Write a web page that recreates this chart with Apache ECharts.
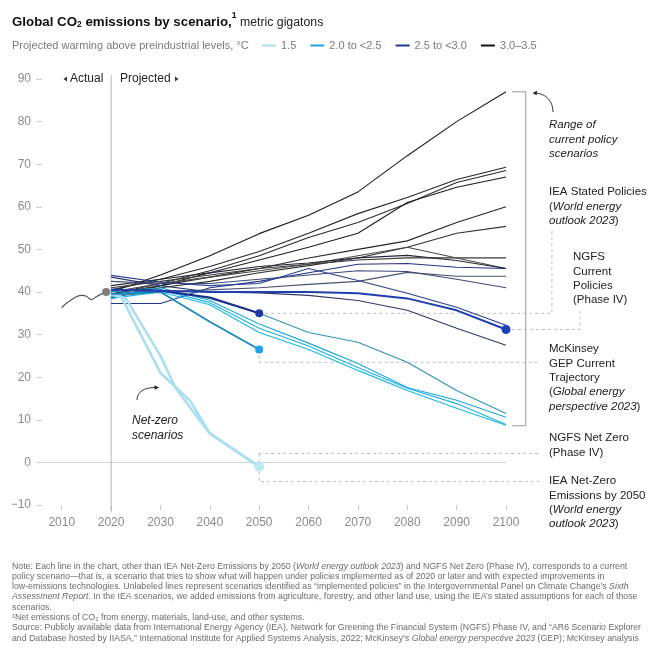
<!DOCTYPE html>
<html><head><meta charset="utf-8">
<script src="https://cdn.jsdelivr.net/npm/echarts@6/dist/echarts.min.js"></script>
<style>html,body{margin:0;padding:0;background:#fff}#c{width:658px;height:651px}</style>
</head><body><div id="c"></div>
<script>
// ---------- DATA ----------
const YEARS = [2020, 2030, 2040, 2050, 2060, 2070, 2080, 2090, 2100];
const YEARS_TO_2050 = [2020, 2030, 2040, 2050];
const X_TICKS = [2010, 2020, 2030, 2040, 2050, 2060, 2070, 2080, 2090, 2100];
const CATEGORIES = ['1.5', '2.0 to <2.5', '2.5 to <3.0', '3.0–3.5'];

const histYears  = [2010, 2011, 2012, 2013, 2014, 2015, 2016, 2017, 2018, 2019];
const histValues = [36.3, 37.4, 38.2, 38.9, 39.2, 39.0, 38.2, 38.9, 39.5, 40.0];

// 3.0–3.5 °C scenarios
const s01 = [40, 44, 48.5, 53.7, 58, 63.5, 72, 80, 87];
const s02 = [40.5, 43, 46, 49.5, 53.8, 58.4, 62.2, 66.4, 69.3];
const s03 = [39.5, 42, 45, 48.5, 52.8, 56.3, 60.8, 65.7, 68.5];
const s04 = [38.5, 41.5, 44.5, 47.5, 50.5, 53.8, 61, 64.6, 67];
const s05 = [39.5, 41.5, 43.5, 45.5, 48, 50, 52, 56.3, 60];
const s06 = [39, 41, 42.5, 44.5, 46.2, 48, 50.5, 53.8, 55.4];
const s07 = [41, 42.5, 44, 45.5, 46.5, 47.5, 48, 48, 48];
const s08 = [40, 42, 43.5, 45, 46.5, 48.5, 50.5, 48, 45.5];
const s09 = [41.5, 43, 44.5, 46, 46.8, 48, 48.6, 47.4, 45.5];

// 2.5 to <3.0 °C scenarios
const s10 = [37.3, 37.3, 41, 42.5, 44.5, 46.5, 46.7, 45.8, 45.5];
const s11 = [39, 40, 40.5, 41, 41.8, 42.5, 44.6, 43.7, 43.7];
const s12 = [42.5, 42, 42, 43, 44, 45, 44.8, 43, 41];
const s13 = [43.9, 42.3, 41.5, 42, 45.5, 42.7, 39.7, 36.4, 32.2];
const s14 = [43.5, 41.5, 40, 39.8, 39.2, 38, 35.7, 31.5, 27.5];
const ngfsCurrentPolicies = [40.5, 40.3, 40, 40, 40, 39.7, 38.5, 35.7, 31.2];
const ieaStatedPolicies = [40.5, 40.3, 38.7, 35];

// 2.0 to <2.5 °C scenarios
const mckinseyGep = [39.5, 40, 33, 26.5];
const c01 = [39.5, 40.5, 38.5, 35, 30.5, 28.2, 23.5, 16.9, 11.5];
const c02 = [40, 41, 38, 32.5, 28, 23.2, 17.6, 14.6, 10.6];
const c03 = [39, 40.5, 37.5, 31.5, 27.3, 22.3, 17.4, 13.8, 8.9];
const c04 = [38.5, 40, 37, 30.5, 26.5, 21.6, 16.9, 12.7, 8.7];

// 1.5 °C (net-zero) scenarios
const ieaNzeYears  = [2020, 2022, 2030, 2036, 2040, 2050];
const ieaNzeValues = [39.5, 39, 21, 14.5, 6.8, -1];
const ngfsNzYears  = [2020, 2023, 2030, 2033, 2036, 2040, 2050];
const ngfsNzValues = [39.5, 38.5, 25, 17.6, 12.9, 6.8, -1];

// ---------- STYLE ----------
const FONT = '"Liberation Sans", Arial, sans-serif';
const CAT_COLORS = ['#a9dff0', '#1fa3d9', '#1c3a8c', '#111111'];

function pairs(years, vals) { return years.map((y, i) => [y, vals[i]]); }
function line(vals, color, width, years) {
  return {
    type: 'line', data: pairs(years || YEARS, vals), symbol: 'none', silent: true,
    lineStyle: { color: color, width: width || 1.1 }, z: 3
  };
}
function dashed(data) {
  return { type: 'line', data: data, symbol: 'none', silent: true, clip: false,
    lineStyle: { color: '#bdbdbd', width: 1, type: [3, 3] }, z: 1 };
}
function dot(x, y, color, size) {
  return { type: 'scatter', data: [[x, y]], symbolSize: size, silent: true,
    itemStyle: { color: color, opacity: 1 }, z: 10 };
}

const series = [
  ...CATEGORIES.map((c, i) => ({ name: c, type: 'line', data: [], color: CAT_COLORS[i],
      lineStyle: { color: CAT_COLORS[i] } })),
  { type: 'line', data: [[2004.6, 0], [2100, 0]], symbol: 'none', silent: true, clip: false,
    lineStyle: { color: '#cfcfcf', width: 1 }, z: 1 },
  { type: 'line', data: [[2020, 90.9], [2020, -11.6]], symbol: 'none', silent: true, clip: false,
    lineStyle: { color: '#b5b5b5', width: 1 }, z: 1 },
  { type: 'line', data: [[2101.2, 87], [2104, 87], [2104, 8.6], [2101.2, 8.6]], symbol: 'none',
    silent: true, clip: false, lineStyle: { color: '#9a9a9a', width: 1 }, z: 1 },
  dashed([[2050, ieaStatedPolicies[3]], [2109.3, ieaStatedPolicies[3]], [2109.3, 54.5]]),
  dashed([[2100, ngfsCurrentPolicies[8]], [2115, ngfsCurrentPolicies[8]], [2115, 35.5]]),
  dashed([[2050, mckinseyGep[3]], [2050, 23.5], [2106.8, 23.5]]),
  dashed([[2050, 2.1], [2106.8, 2.1]]),
  dashed([[2050, 2.1], [2050, -4.5], [2106.8, -4.5]]),
  { type: 'line', data: pairs(histYears, histValues), symbol: 'none', smooth: 0.4, silent: true,
    lineStyle: { color: '#555', width: 1.2 }, z: 3 },
  line(s01, '#1a1a1a'), line(s02, '#262626'), line(s03, '#2a2a2a'), line(s04, '#1e1e1e'),
  line(s05, '#262626'), line(s06, '#303030'), line(s07, '#3a3a3a'), line(s08, '#4a4a4a'),
  line(s09, '#23273a'),
  line(s10, '#1f3585'), line(s11, '#4a5472'), line(s12, '#3d4a7c'), line(s13, '#2a3f8f'),
  line(s14, '#2b3a6e'),
  line(c01, '#2f93b9', 1.1), line(c02, '#1fa6d8', 1.1), line(c03, '#22b0e0', 1.1), line(c04, '#18b8e8', 1.1),
  line(ieaNzeValues, '#a9dff0', 2.6, ieaNzeYears),
  line(ngfsNzValues, '#a9dff0', 2.6, ngfsNzYears),
  line(mckinseyGep, '#1a88c0', 1.8, YEARS_TO_2050),
  line(ieaStatedPolicies, '#1b2f8a', 2, YEARS_TO_2050),
  line(ngfsCurrentPolicies, '#1f3fae', 2),
  dot(histYears[histYears.length - 1], histValues[histValues.length - 1], '#7d7d7d', 8),
  dot(2050, ieaStatedPolicies[3], '#1f3a9e', 8),
  dot(2050, mckinseyGep[3], '#1fa2e8', 8),
  dot(2050, ieaNzeValues[ieaNzeValues.length - 1], '#bfe8f4', 10),
  dot(2100, ngfsCurrentPolicies[8], '#1f40b8', 9)
];

const RICH = {
  n: { fontFamily: FONT, fontSize: 11.5, fill: '#222', lineHeight: 14.3 },
  i: { fontFamily: FONT, fontSize: 11.5, fill: '#222', fontStyle: 'italic', lineHeight: 14.3 }
};
function T(x, y, text, rich, extra) {
  return {
    type: 'text', x: x, y: y, silent: true,
    style: Object.assign({ text: text, fontFamily: FONT, fontSize: 11.5, fill: '#222', lineHeight: 14.3,
      rich: rich || {} }, extra || {})
  };
}
const NOTE_RICH = {
  n: { fontFamily: FONT, fontSize: 8.75, fill: '#6b6b6b', lineHeight: 10.3 },
  i: { fontFamily: FONT, fontSize: 8.75, fill: '#6b6b6b', fontStyle: 'italic', lineHeight: 10.3 }
};
const noteText = [
  '{n|Note: Each line in the chart, other than IEA Net-Zero Emissions by 2050 (}{i|World energy outlook 2023}{n|) and NGFS Net Zero (Phase IV), corresponds to a current}',
  '{n|policy scenario—that is, a scenario that tries to show what will happen under policies implemented as of 2020 or later and with expected improvements in}',
  '{n|low-emissions technologies. Unlabeled lines represent scenarios identified as “implemented policies” in the Intergovernmental Panel on Climate Change’s }{i|Sixth}',
  '{i|Assessment Report}{n|. In the IEA scenarios, we added emissions from agriculture, forestry, and other land use, using the IEA’s stated assumptions for each of those}',
  '{n|scenarios.}',
  '{n|¹Net emissions of CO₂ from energy, materials, land-use, and other systems.}',
  '{n|Source: Publicly available data from International Energy Agency (IEA), Network for Greening the Financial System (NGFS) Phase IV, and “AR6 Scenario Explorer}',
  '{n|and Database hosted by IIASA,” International Institute for Applied Systems Analysis, 2022; McKinsey’s }{i|Global energy perspective 2023}{n| (GEP); McKinsey analysis}'
].join('\n');

const option = {
  animation: false,
  textStyle: { fontFamily: FONT },
  grid: { left: 42, top: 79, width: 543, height: 426 },
  title: [
    { left: 12, top: 11, padding: 0, text: '{b|Global CO}{sub|2}{b| emissions by scenario,}{sup|1}{n| metric gigatons}',
      textStyle: { rich: {
        b: { fontFamily: FONT, fontSize: 13.3, fontWeight: 'bold', color: '#111', lineHeight: 18, verticalAlign: 'bottom' },
        sub: { fontFamily: FONT, fontSize: 8.5, fontWeight: 'bold', color: '#111', lineHeight: 10, verticalAlign: 'bottom' },
        sup: { fontFamily: FONT, fontSize: 8.5, fontWeight: 'bold', color: '#111', lineHeight: 18, verticalAlign: 'top' },
        n: { fontFamily: FONT, fontSize: 12.3, fontWeight: 'normal', color: '#222', lineHeight: 18, verticalAlign: 'bottom' }
      } } },
    { left: 12, top: 40, padding: 0, text: 'Projected warming above preindustrial levels, °C',
      textStyle: { fontFamily: FONT, fontSize: 11, fontWeight: 'normal', color: '#7a7a7a' } }
  ],
  legend: {
    left: 262, top: 40, padding: 0, data: CATEGORIES, icon: 'rect', itemWidth: 14, itemHeight: 2,
    itemGap: 14, selectedMode: false,
    textStyle: { fontFamily: FONT, fontSize: 11, color: '#7a7a7a' }
  },
  xAxis: {
    type: 'value', min: 2006, max: 2116,
    axisLine: { show: false, onZero: false }, splitLine: { show: false },
    axisTick: { show: true, length: 5, customValues: X_TICKS, lineStyle: { color: '#c8c8c8' } },
    axisLabel: { customValues: X_TICKS, margin: 12, fontSize: 12, color: '#8a8a8a', fontFamily: FONT,
      formatter: v => String(v) }
  },
  yAxis: {
    type: 'value', min: -10, max: 90, interval: 10,
    axisLine: { show: false }, splitLine: { show: false },
    axisTick: { show: true, length: 6, lineStyle: { color: '#cccccc' } },
    axisLabel: { margin: 11, fontSize: 12, color: '#8a8a8a', fontFamily: FONT,
      formatter: v => v < 0 ? '−' + Math.abs(v) : String(v) }
  },
  series: series,
  graphic: [
    { type: 'polygon', shape: { points: [[67, 76.5], [67, 81.5], [63.5, 79]] }, style: { fill: '#333' }, silent: true },
    T(70, 72, 'Actual', null, { fontSize: 12, fill: '#222' }),
    T(120, 72, 'Projected', null, { fontSize: 12, fill: '#222' }),
    { type: 'polygon', shape: { points: [[175, 76.5], [175, 81.5], [178.5, 79]] }, style: { fill: '#333' }, silent: true },
    { type: 'bezierCurve', silent: true,
      shape: { x1: 553, y1: 112, cpx1: 553, cpy1: 101, cpx2: 546, cpy2: 94, x2: 536, y2: 93 },
      style: { fill: null, stroke: '#333', lineWidth: 1 } },
    { type: 'polygon', silent: true, shape: { points: [[532.5, 93], [537, 90.8], [536.6, 95.3]] }, style: { fill: '#222' } },
    { type: 'bezierCurve', silent: true,
      shape: { x1: 137, y1: 400, cpx1: 137, cpy1: 392, cpx2: 144, cpy2: 387.5, x2: 155, y2: 387.5 },
      style: { fill: null, stroke: '#333', lineWidth: 1 } },
    { type: 'polygon', silent: true, shape: { points: [[159, 387.5], [154.5, 385.2], [154.7, 389.8]] }, style: { fill: '#222' } },
    T(132, 414, '{i|Net-zero}\n{i|scenarios}', { i: Object.assign({}, RICH.i, { fontSize: 12 }) }),
    T(549, 118, '{i|Range of}\n{i|current policy}\n{i|scenarios}', RICH),
    T(549, 185, '{n|IEA Stated Policies}\n{n|(}{i|World energy}\n{i|outlook 2023}{n|)}', RICH),
    T(573, 250, '{n|NGFS}\n{n|Current}\n{n|Policies}\n{n|(Phase IV)}', RICH),
    T(549, 342, '{n|McKinsey}\n{n|GEP Current}\n{n|Trajectory}\n{n|(}{i|Global energy}\n{i|perspective 2023}{n|)}', RICH),
    T(549, 431, '{n|NGFS Net Zero}\n{n|(Phase IV)}', RICH),
    T(549, 474, '{n|IEA Net-Zero}\n{n|Emissions by 2050}\n{n|(}{i|World energy}\n{i|outlook 2023}{n|)}', RICH),
    { type: 'text', x: 12, y: 561, silent: true,
      style: { text: noteText, rich: NOTE_RICH, fontFamily: FONT, fontSize: 8.75, fill: '#6b6b6b', lineHeight: 10.3 } }
  ]
};
const chart = echarts.init(document.getElementById('c'), null, { renderer: 'canvas' });
chart.setOption(option);
</script></body></html>
